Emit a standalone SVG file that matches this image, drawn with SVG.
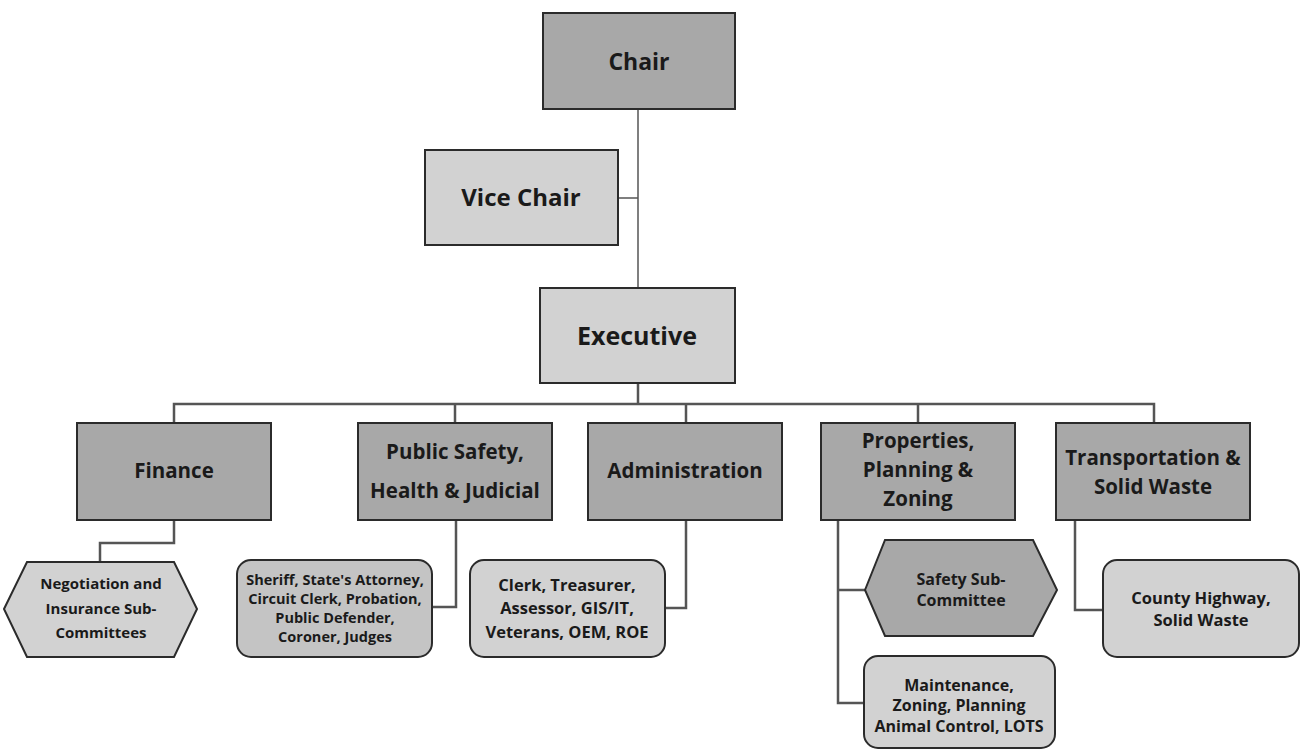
<svg xmlns="http://www.w3.org/2000/svg" width="1306" height="751" viewBox="0 0 1306 751">
<style>
.box{stroke:#2b2b2b;stroke-width:2}
.dark{fill:#a8a8a8}
.light{fill:#d2d2d2}
.mid{fill:#c4c4c4}
.t{font-family:"Open Sans","Liberation Sans",sans-serif;font-weight:bold;fill:#1a1a1a;text-anchor:middle}
.med{font-size:20.5px}
.sm{font-size:16px}
.conn{fill:none;stroke:#555;stroke-width:2.5}
</style>
<rect width="1306" height="751" fill="#ffffff"/>
<g id="connectors">
<path class="conn" style="stroke-width:1.5" d="M638,109 V288"/>
<path class="conn" style="stroke-width:1.5" d="M618,198 H638"/>
<path class="conn" d="M638,383 V404 M174,423 V404 H1154 V423 M455,404 V423 M686,404 V423 M918,404 V423"/>
<path class="conn" d="M174,520 V543 H100 V562"/>
<path class="conn" d="M456,520 V607 H432"/>
<path class="conn" d="M686,520 V608 H665"/>
<path class="conn" d="M838,520 V703 H864 M838,590 H865"/>
<path class="conn" d="M1075,520 V610 H1103"/>
</g>
<g id="chair"><rect class="box dark" x="543" y="13" width="192" height="96"/><text class="t" style="font-size:23px" x="639" y="70">Chair</text></g>
<g id="vice-chair"><rect class="box light" x="425" y="150" width="193" height="95"/><text class="t" style="font-size:24px" x="521" y="206">Vice Chair</text></g>
<g id="executive"><rect class="box light" x="540" y="288" width="195" height="95"/><text class="t" style="font-size:25px" x="637" y="345">Executive</text></g>
<g id="finance"><rect class="box dark" x="77" y="423" width="194" height="97"/><text class="t med" x="174" y="478">Finance</text></g>
<g id="public-safety"><rect class="box dark" x="358" y="423" width="194" height="97"/><text class="t med" x="455" y="459">Public Safety,</text><text class="t med" x="455" y="498">Health &amp; Judicial</text></g>
<g id="administration"><rect class="box dark" x="588" y="423" width="194" height="97"/><text class="t med" x="685" y="478">Administration</text></g>
<g id="properties"><rect class="box dark" x="821" y="423" width="194" height="97"/><text class="t med" x="918" y="448">Properties,</text><text class="t med" x="918" y="477">Planning &amp;</text><text class="t med" x="918" y="506">Zoning</text></g>
<g id="transportation"><rect class="box dark" x="1056" y="423" width="194" height="97"/><text class="t med" x="1153" y="465">Transportation &amp;</text><text class="t med" x="1153" y="494">Solid Waste</text></g>
<g id="negotiation"><polygon class="box light" points="4,609 27,562 174,562 197,609 174,657 27,657"/><text class="t" style="font-size:15px" x="101" y="589">Negotiation and</text><text class="t" style="font-size:15px" x="101" y="614">Insurance Sub-</text><text class="t" style="font-size:15px" x="101" y="638">Committees</text></g>
<g id="sheriff"><rect class="box mid" x="237" y="560" width="195" height="97" rx="14"/><text class="t" style="font-size:14.5px" x="335" y="585">Sheriff, State's Attorney,</text><text class="t" style="font-size:14.5px" x="335" y="604">Circuit Clerk, Probation,</text><text class="t" style="font-size:14.5px" x="335" y="623">Public Defender,</text><text class="t" style="font-size:14.5px" x="335" y="642">Coroner, Judges</text></g>
<g id="clerk"><rect class="box light" x="470" y="560" width="195" height="97" rx="14"/><text class="t" style="font-size:16.5px" x="567" y="591">Clerk, Treasurer,</text><text class="t" style="font-size:16.5px" x="567" y="614">Assessor, GIS/IT,</text><text class="t" style="font-size:16.5px" x="567" y="638">Veterans, OEM, ROE</text></g>
<g id="safety-sub"><polygon class="box dark" points="865,590 885,540 1033,540 1057,590 1033,636 885,636"/><text class="t sm" x="961" y="585">Safety Sub-</text><text class="t sm" x="961" y="606">Committee</text></g>
<g id="maintenance"><rect class="box light" x="864" y="656" width="191" height="92" rx="14"/><text class="t sm" x="959" y="691">Maintenance,</text><text class="t sm" x="959" y="711">Zoning, Planning</text><text class="t sm" x="959" y="732">Animal Control, LOTS</text></g>
<g id="county-highway"><rect class="box light" x="1103" y="560" width="196" height="97" rx="14"/><text class="t" style="font-size:16.5px" x="1201" y="604">County Highway,</text><text class="t" style="font-size:16.5px" x="1201" y="626">Solid Waste</text></g>
</svg>
